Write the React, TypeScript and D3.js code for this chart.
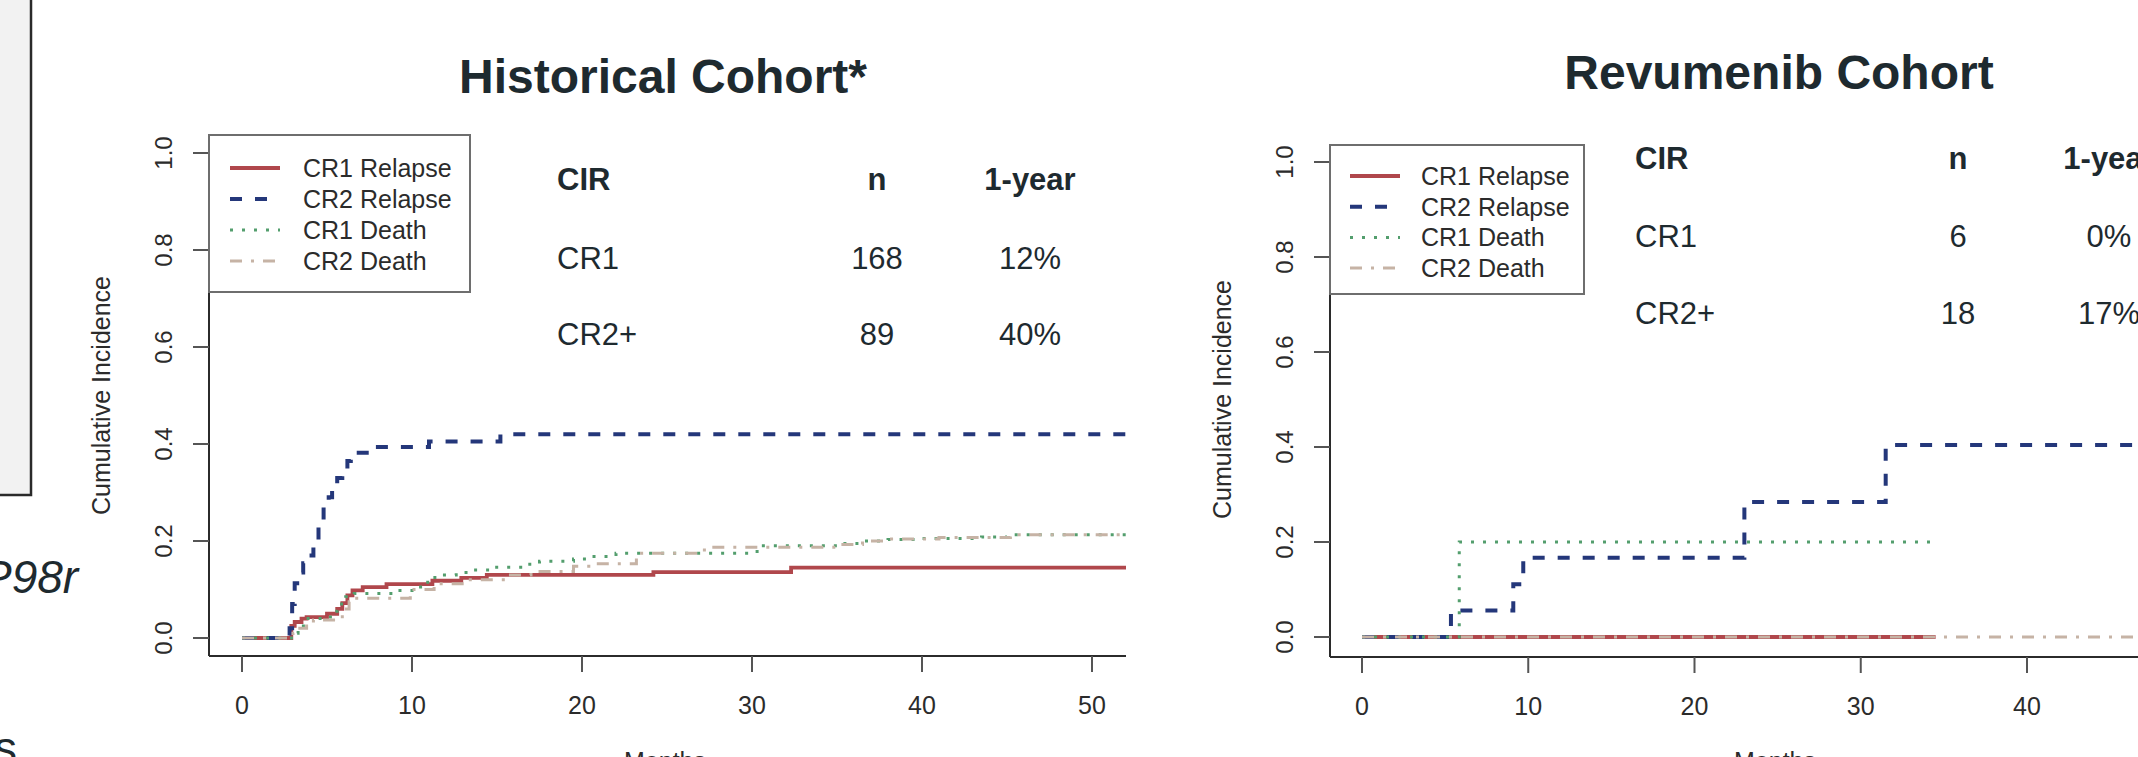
import React from 'react';
import * as d3 from 'd3';

// legend / series styling order: CR1 Relapse, CR2 Relapse, CR1 Death, CR2 Death
const seriesNames = ['CR1 Relapse', 'CR2 Relapse', 'CR1 Death', 'CR2 Death'];
const seriesColors = ['#b0474c', '#24377a', '#539e6d', '#c6b3a5'];
const seriesDash = ['', '12 13', '3 9', '12 9 3 9'];
const seriesWidth = [3.8, 4, 3, 3];

const xTicks = [0, 10, 20, 30, 40, 50];
const yTicks = [0, 0.2, 0.4, 0.6, 0.8, 1.0];

// Historical cohort: [month, cumulative incidence] step points
const histCR1Relapse = [[0, 0], [2.9, 0.025], [3.1, 0.033], [3.5, 0.04], [3.8, 0.043], [5.0, 0.05], [5.6, 0.06], [5.9, 0.072], [6.2, 0.088], [6.5, 0.098], [7.1, 0.105], [8.5, 0.111], [11.2, 0.118], [12.9, 0.124], [14.4, 0.13], [24.2, 0.136], [32.3, 0.145]];
const histCR2Relapse = [[0, 0], [2.8, 0.02], [2.95, 0.07], [3.1, 0.113], [3.4, 0.135], [3.6, 0.154], [3.9, 0.17], [4.2, 0.187], [4.5, 0.228], [4.8, 0.273], [5.1, 0.29], [5.3, 0.31], [5.6, 0.33], [5.9, 0.349], [6.2, 0.365], [6.4, 0.382], [7.6, 0.394], [11.0, 0.405], [15.2, 0.42]];
const histCR1Death = [[0, 0], [3.0, 0.01], [3.3, 0.025], [3.8, 0.04], [5.2, 0.055], [5.6, 0.07], [6.1, 0.085], [6.6, 0.092], [8.9, 0.098], [10.0, 0.105], [10.6, 0.115], [11.2, 0.125], [11.8, 0.13], [12.6, 0.135], [13.6, 0.14], [14.8, 0.146], [16.5, 0.152], [17.5, 0.158], [19.5, 0.163], [20.5, 0.168], [22.0, 0.175], [30.3, 0.19], [35.0, 0.195], [36.5, 0.2], [38.0, 0.203], [40.0, 0.205], [43.5, 0.208], [45.0, 0.213]];
const histCR2Death = [[0, 0], [3.0, 0.01], [3.3, 0.02], [3.8, 0.03], [4.2, 0.037], [5.9, 0.06], [6.3, 0.075], [6.6, 0.082], [9.9, 0.1], [11.3, 0.112], [13.2, 0.12], [15.5, 0.13], [17.0, 0.137], [19.5, 0.148], [20.4, 0.153], [23.2, 0.175], [27.2, 0.187], [35.0, 0.193], [36.5, 0.2], [38.0, 0.204], [41.0, 0.207], [45.2, 0.213]];
const histEnds = [56, 56, 56, 56];

// Revumenib cohort
const revCR1Relapse = [[0, 0]];
const revCR2Relapse = [[0, 0], [5.35, 0.056], [9.1, 0.111], [9.7, 0.167], [23.0, 0.284], [31.5, 0.404]];
const revCR1Death = [[0, 0], [5.85, 0.2]];
const revCR2Death = [[0, 0]];
const revEnds = [34.5, 50, 34.2, 50];

const tableHeader = ['CIR', 'n', '1-year'];
const histRows = [['CR1', '168', '12%'], ['CR2+', '89', '40%']];
const revRows = [['CR1', '6', '0%'], ['CR2+', '18', '17%']];

const ink = '#1e2a2f';
const axisInk = '#2b2b2b';
const font = 'Liberation Sans, Arial, Helvetica, sans-serif';

const panels = [
  {
    id: 'hist', title: 'Historical Cohort*', titleX: 663, titleY: 93,
    series: [histCR1Relapse, histCR2Relapse, histCR1Death, histCR2Death], ends: histEnds,
    xMax: 50, x0: 242, x1: 1092, y0: 638, y1: 153,
    axisX: 209, axisTop: 135, axisBottom: 656, clipRight: 1126,
    legend: { x: 209, y: 135, w: 261, h: 157, lineX: 230, textX: 303, rowY: 168, rowH: 31 },
    table: { cirX: 557, nX: 877, pctX: 1030, rows: histRows, headY: 190, rowYs: [269, 345] },
    monthsX: 665,
  },
  {
    id: 'rev', title: 'Revumenib Cohort', titleX: 1779, titleY: 89,
    series: [revCR1Relapse, revCR2Relapse, revCR1Death, revCR2Death], ends: revEnds,
    xMax: 40, x0: 1362, x1: 2027, y0: 637, y1: 162,
    axisX: 1330, axisTop: 145, axisBottom: 657, clipRight: 2138,
    legend: { x: 1330, y: 145, w: 254, h: 149, lineX: 1350, textX: 1421, rowY: 176, rowH: 30.7 },
    table: { cirX: 1635, nX: 1958, pctX: 2109, rows: revRows, headY: 169, rowYs: [247, 324] },
    monthsX: 1775,
  },
];

function Panel({ p }: { p: any }) {
  const x = d3.scaleLinear().domain([0, p.xMax]).range([p.x0, p.x1]);
  const y = d3.scaleLinear().domain([0, 1]).range([p.y0, p.y1]);
  const line = d3.line<number[]>().x(d => x(d[0])).y(d => y(d[1])).curve(d3.curveStepAfter);
  const fmt = d3.format('.1f');
  const L = p.legend;
  const T = p.table;

  return (
    <g>
      <defs>
        <clipPath id={`clip-${p.id}`}>
          <rect x={0} y={0} width={p.clipRight} height={757} />
        </clipPath>
      </defs>
      <g clipPath={`url(#clip-${p.id})`}>
        <text x={p.titleX} y={p.titleY} textAnchor="middle" fontSize={48} fontWeight="bold" fill={ink}>{p.title}</text>

        {/* axes: L-shaped box */}
        <line x1={p.axisX} x2={p.axisX} y1={p.axisTop} y2={p.axisBottom} stroke={axisInk} strokeWidth={2} />
        <line x1={p.axisX} x2={p.clipRight + 10} y1={p.axisBottom} y2={p.axisBottom} stroke={axisInk} strokeWidth={2} />

        {xTicks.map(t => (
          <g key={t}>
            <line x1={x(t)} x2={x(t)} y1={p.axisBottom} y2={p.axisBottom + 16} stroke="#555" strokeWidth={2} />
            <text x={x(t)} y={p.axisBottom + 58} textAnchor="middle" fontSize={25} fill={axisInk}>{t}</text>
          </g>
        ))}
        {yTicks.map(t => (
          <g key={t}>
            <line x1={p.axisX - 16} x2={p.axisX} y1={y(t)} y2={y(t)} stroke="#555" strokeWidth={2} />
            <text transform={`translate(${p.axisX - 37},${y(t)}) rotate(-90)`} textAnchor="middle" fontSize={24} fill={axisInk}>{fmt(t)}</text>
          </g>
        ))}
        <text transform={`translate(${p.axisX - 99},${(p.y0 + p.y1) / 2}) rotate(-90)`} textAnchor="middle" fontSize={25} fill={axisInk}>Cumulative Incidence</text>
        <text x={p.monthsX} y={770} textAnchor="middle" fontSize={25} fill={axisInk}>Months</text>

        {/* curves, drawn in legend order */}
        {p.series.map((s: number[][], i: number) => {
          const pts = [...s, [p.ends[i], s[s.length - 1][1]]];
          return (
            <path key={i} d={line(pts) || ''} fill="none" stroke={seriesColors[i]} strokeWidth={seriesWidth[i]}
              strokeDasharray={seriesDash[i] || undefined} />
          );
        })}

        {/* legend */}
        <rect x={L.x} y={L.y} width={L.w} height={L.h} fill="#fff" stroke="#6e6e6e" strokeWidth={2} />
        {seriesNames.map((name, i) => (
          <g key={name}>
            <line x1={L.lineX} x2={L.lineX + 50} y1={L.rowY + i * L.rowH} y2={L.rowY + i * L.rowH}
              stroke={seriesColors[i]} strokeWidth={seriesWidth[i]} strokeDasharray={seriesDash[i] || undefined} />
            <text x={L.textX} y={L.rowY + i * L.rowH + 9} fontSize={25} fill={axisInk}>{name}</text>
          </g>
        ))}

        {/* table */}
        <text x={T.cirX} y={T.headY} fontSize={31} fontWeight="bold" fill={ink}>{tableHeader[0]}</text>
        <text x={T.nX} y={T.headY} fontSize={31} fontWeight="bold" fill={ink} textAnchor="middle">{tableHeader[1]}</text>
        <text x={T.pctX} y={T.headY} fontSize={31} fontWeight="bold" fill={ink} textAnchor="middle">{tableHeader[2]}</text>
        {T.rows.map((r: string[], k: number) => (
          <g key={r[0]}>
            <text x={T.cirX} y={T.rowYs[k]} fontSize={31} fill={ink}>{r[0]}</text>
            <text x={T.nX} y={T.rowYs[k]} fontSize={31} fill={ink} textAnchor="middle">{r[1]}</text>
            <text x={T.pctX} y={T.rowYs[k]} fontSize={31} fill={ink} textAnchor="middle">{r[2]}</text>
          </g>
        ))}
      </g>
    </g>
  );
}

export default function App() {
  return (
    <svg width={2138} height={757} style={{ position: 'fixed', left: 0, top: 0, background: '#fff' }}
      fontFamily={font}>
      <rect x={0} y={0} width={2138} height={757} fill="#fff" />
      {/* slide remnants on the left edge */}
      <rect x={-4} y={-4} width={35} height={499} fill="#f2f2f2" stroke="#2a2a2a" strokeWidth={2.5} />
      <text x={-19} y={593} fontSize={46} fontStyle="italic" fill={ink}>P98r</text>
      <text x={-6} y={764} fontSize={46} fill={ink}>s</text>
      {panels.map(p => <Panel key={p.id} p={p} />)}
    </svg>
  );
}
